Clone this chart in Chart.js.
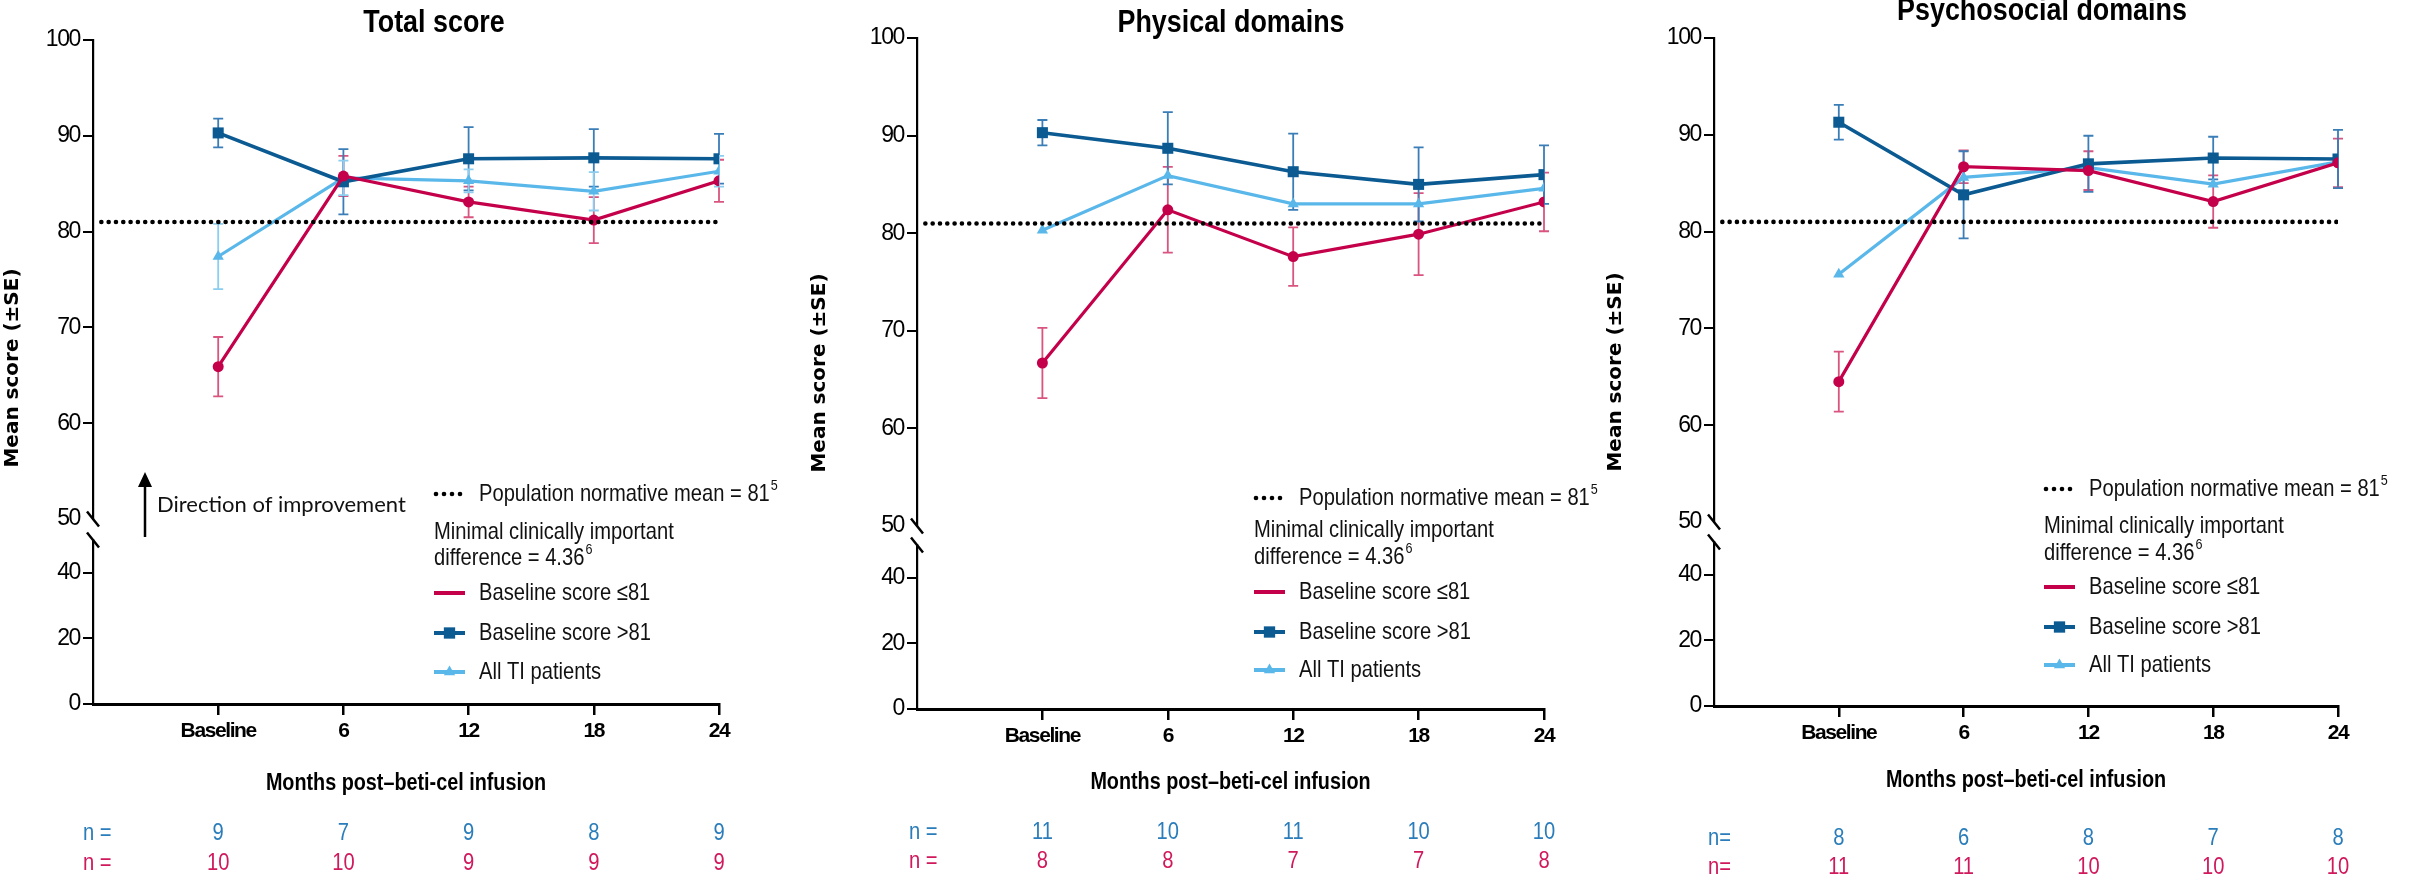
<!DOCTYPE html>
<html><head><meta charset="utf-8">
<script src="https://cdn.jsdelivr.net/npm/chart.js@4.4.1/dist/chart.umd.min.js"></script>
<style>
html,body{margin:0;padding:0;background:#fff;}
#wrap{position:relative;width:2417px;height:876px;overflow:hidden;background:#fff;}
canvas{position:absolute;top:0;}
</style></head><body>
<div id="wrap">
<canvas id="c1" width="800" height="876" style="left:0px;width:800px;height:876px"></canvas>
<canvas id="c2" width="800" height="876" style="left:800px;width:800px;height:876px"></canvas>
<canvas id="c3" width="817" height="876" style="left:1600px;width:817px;height:876px"></canvas>
</div>
<script>
// ---------- data ----------
const monthValues = [0, 6, 12, 18, 24];
const monthLabels = ['Baseline', '6', '12', '18', '24'];
const upperTicks = [50, 60, 70, 80, 90, 100];
const lowerTicks = [0, 20, 40];
const normativeMean = 81;
const refLineX = [-5.6, 24];
const seriesNames = ['Baseline score \u226481', 'Baseline score >81', 'All TI patients'];
const panelTitles = ['Total score', 'Physical domains', 'Psychosocial domains'];

// Total score
const totalLowMean  = [65.9, 85.8, 83.1, 81.2, 85.3];
const totalLowSE    = [3.1, 2.1, 1.6, 2.4, 2.2];
const totalHighMean = [90.3, 85.2, 87.6, 87.7, 87.6];
const totalHighSE   = [1.5, 3.4, 3.3, 3.0, 2.6];
const totalAllMean  = [77.4, 85.6, 85.3, 84.2, 86.3];
const totalAllSE    = [3.4, 1.8, 1.2, 2.0, 1.6];
const totalNHigh = [9, 7, 9, 8, 9];
const totalNLow  = [10, 10, 9, 9, 9];

// Physical domains
const physLowMean  = [66.7, 82.4, 77.6, 79.9, 83.2];
const physLowSE    = [3.6, 4.4, 3.0, 4.2, 3.0];
const physHighMean = [90.3, 88.7, 86.3, 85.0, 86.0];
const physHighSE   = [1.3, 3.7, 3.9, 3.8, 3.0];
const physAllMean  = [80.3, 85.9, 83.0, 83.0, 84.6];
const physAllSE    = null;
const physNHigh = [11, 10, 11, 10, 10];
const physNLow  = [8, 8, 7, 7, 8];

// Psychosocial domains
const psyLowMean  = [64.5, 86.7, 86.3, 83.1, 87.1];
const psyLowSE    = [3.1, 1.7, 2.0, 2.7, 2.5];
const psyHighMean = [91.3, 83.8, 87.0, 87.6, 87.5];
const psyHighSE   = [1.8, 4.5, 2.9, 2.2, 3.0];
const psyAllMean  = [75.6, 85.6, 86.6, 84.9, 87.2];
const psyAllSE    = null;
const psyNHigh = [8, 6, 8, 7, 8];
const psyNLow  = [11, 11, 10, 10, 10];

// ---------- style ----------
const SANS = "'Liberation Sans', Arial, sans-serif";
const SQUEEZE = 0.84;
const COL = {
  low: '#C4004B', lowErr: '#D9557F',
  high: '#0B5A92', highErr: '#3A7DB7',
  all: '#5AB7EA', allErr: '#8CCDF0',
  nHigh: '#2A7DBA', nLow: '#D0185C', text: '#111'
};

// narrow text: Liberation Sans horizontally condensed through fillText's maxWidth
function narrowText(ctx, str, x, y, font, align, squeeze) {
  ctx.font = font;
  ctx.textAlign = align || 'left';
  ctx.textBaseline = 'middle';
  const w = ctx.measureText(str).width * (squeeze || SQUEEZE);
  ctx.fillText(str, x, y, w);
  return w;
}
function drawSup(ctx, x, y, main, sup, size) {
  const w = narrowText(ctx, main, x, y, size + 'px ' + SANS, 'left');
  if (sup) narrowText(ctx, sup, x + w + 1, y - size * 0.32, Math.round(size * 0.62) + 'px ' + SANS, 'left');
}

function drawMarker(ctx, style, x, y, r, color) {
  ctx.fillStyle = color;
  ctx.beginPath();
  if (style === 'circle') {
    ctx.arc(x, y, r, 0, Math.PI * 2);
  } else if (style === 'rect') {
    const s = Math.SQRT1_2 * r;
    ctx.rect(x - s, y - s, 2 * s, 2 * s);
  } else {
    ctx.moveTo(x, y - r);
    ctx.lineTo(x + r * 0.866, y + r * 0.5);
    ctx.lineTo(x - r * 0.866, y + r * 0.5);
    ctx.closePath();
  }
  ctx.fill();
}

function makePanel(cfg) {
  const series = [
    {name: seriesNames[0], mean: cfg.lowMean, se: cfg.lowSE, color: COL.low, err: COL.lowErr, style: 'circle', r: 5.5, w: 3.2, order: 1},
    {name: seriesNames[1], mean: cfg.highMean, se: cfg.highSE, color: COL.high, err: COL.highErr, style: 'rect', r: 7.8, w: 3.6, order: 2},
    {name: seriesNames[2], mean: cfg.allMean, se: cfg.allSE, color: COL.all, err: COL.allErr, style: 'triangle', r: 6.5, w: 3.2, order: 3}
  ];
  const datasets = [{
    label: 'Population normative mean',
    data: refLineX.map(x => ({x: x, y: normativeMean})),
    borderColor: '#000', borderWidth: 4.6, borderDash: [0.01, 7.3], borderCapStyle: 'round',
    pointRadius: 0, order: 0, xAxisID: 'x', yAxisID: 'y', fill: false
  }];
  series.forEach(s => {
    datasets.push({
      label: s.name,
      data: monthValues.map((m, i) => ({x: m, y: s.mean[i]})),
      se: s.se, errColor: s.err,
      borderColor: s.color, backgroundColor: s.color, borderWidth: s.w,
      pointStyle: s.style, pointRadius: s.r, pointBackgroundColor: s.color, pointBorderColor: s.color,
      pointBorderWidth: 0, order: s.order, xAxisID: 'x', yAxisID: 'y', fill: false, tension: 0
    });
  });

  const yCommon = {
    type: 'linear', position: 'left', stack: 'v', offset: false,
    afterFit: (sc) => { sc.width = cfg.axisW; }
  };

  const panelPlugin = {
    id: 'panelExtras',
    beforeDraw(chart) {
      chart.ctx.letterSpacing = '-1.4px';
    },
    beforeDatasetsDraw(chart) {
      const ctx = chart.ctx, xs = chart.scales.x, ys = chart.scales.y;
      ctx.save();
      chart.data.datasets.forEach(d => {
        if (!d.se) return;
        ctx.strokeStyle = d.errColor;
        ctx.lineWidth = 1.8;
        d.data.forEach((p, i) => {
          const px = xs.getPixelForValue(p.x);
          const top = ys.getPixelForValue(p.y + d.se[i]);
          const bot = ys.getPixelForValue(p.y - d.se[i]);
          ctx.beginPath();
          ctx.moveTo(px, top); ctx.lineTo(px, bot);
          ctx.moveTo(px - 5, top); ctx.lineTo(px + 5, top);
          ctx.moveTo(px - 5, bot); ctx.lineTo(px + 5, bot);
          ctx.stroke();
        });
      });
      ctx.restore();
    },
    afterDraw(chart) {
      const ctx = chart.ctx, xs = chart.scales.x, ys = chart.scales.y, y2 = chart.scales.y2;
      const ax = chart.chartArea.left;
      ctx.save();
      ctx.letterSpacing = '0px';
      // axis break marks
      ctx.strokeStyle = '#000'; ctx.lineWidth = 2.5;
      [ys.getPixelForValue(50), y2.top].forEach(yy => {
        ctx.beginPath();
        ctx.moveTo(ax - 6, yy - 7.5); ctx.lineTo(ax + 6, yy + 7.5);
        ctx.stroke();
      });
      ctx.fillStyle = '#000';
      // title
      narrowText(ctx, cfg.title, cfg.titleX, cfg.titleY, 'bold 32px ' + SANS, 'center');
      // y title
      ctx.save();
      ctx.translate(cfg.yTitleX, cfg.yTitleY);
      ctx.rotate(-Math.PI / 2);
      ctx.font = "bold 20px 'DejaVu Sans', Verdana, sans-serif";
      ctx.textAlign = 'center'; ctx.textBaseline = 'middle';
      ctx.fillText('Mean score (\u00b1SE)', 0, 0);
      ctx.restore();
      // x title
      narrowText(ctx, 'Months post\u2013beti-cel infusion', (chart.chartArea.left + chart.chartArea.right) / 2,
                 cfg.xTitleY, 'bold 23px ' + SANS, 'center', 0.86);
      // n rows
      [[cfg.nHigh, COL.nHigh, cfg.nY[0]], [cfg.nLow, COL.nLow, cfg.nY[1]]].forEach(([arr, col, yy]) => {
        ctx.fillStyle = col;
        narrowText(ctx, cfg.nPrefix, cfg.nLeft, yy, '24px ' + SANS, 'left');
        arr.forEach((v, i) => narrowText(ctx, String(v), xs.getPixelForValue(monthValues[i]), yy, '24px ' + SANS, 'center'));
      });
      // legend
      const lx = cfg.legX, tx = cfg.legX + 45, R = cfg.legRows;
      ctx.fillStyle = '#000';
      for (let k = 0; k < 4; k++) {
        ctx.beginPath(); ctx.arc(lx + 2 + k * 8, R[0], 2.3, 0, Math.PI * 2); ctx.fill();
      }
      ctx.fillStyle = COL.text;
      drawSup(ctx, tx, R[0], 'Population normative mean = 81', '5', 24);
      drawSup(ctx, lx, R[1], 'Minimal clinically important', '', 24);
      drawSup(ctx, lx, R[2], 'difference = 4.36', '6', 24);
      series.forEach((s, i) => {
        const yy = R[3 + i];
        ctx.strokeStyle = s.color; ctx.lineWidth = 4;
        ctx.beginPath(); ctx.moveTo(lx, yy); ctx.lineTo(lx + 31, yy); ctx.stroke();
        if (i > 0) drawMarker(ctx, s.style, lx + 15.5, yy, s.style === 'rect' ? 8 : 6.5, s.color);
        ctx.fillStyle = COL.text;
        drawSup(ctx, tx, yy, s.name, '', 24);
      });
      // direction of improvement
      if (cfg.arrow) {
        const axx = cfg.arrow.x;
        ctx.strokeStyle = '#000'; ctx.fillStyle = '#000'; ctx.lineWidth = 2.5;
        ctx.beginPath(); ctx.moveTo(axx, cfg.arrow.y1); ctx.lineTo(axx, cfg.arrow.y2 + 12); ctx.stroke();
        ctx.beginPath();
        ctx.moveTo(axx, cfg.arrow.y2); ctx.lineTo(axx + 7, cfg.arrow.y2 + 15); ctx.lineTo(axx - 7, cfg.arrow.y2 + 15);
        ctx.closePath(); ctx.fill();
        ctx.font = "22px Lato, 'Open Sans', sans-serif";
        ctx.textAlign = 'left'; ctx.textBaseline = 'middle';
        ctx.fillStyle = COL.text;
        ctx.fillText('Direction of improvement', axx + 12, cfg.arrow.ty);
      }
      ctx.restore();
    }
  };

  return new Chart(document.getElementById(cfg.id), {
    type: 'line',
    data: {datasets: datasets},
    options: {
      responsive: false, animation: false, events: [],
      layout: {padding: {left: 0, top: cfg.padTop, right: cfg.padRight, bottom: cfg.padBottom}},
      plugins: {legend: {display: false}, tooltip: {enabled: false}, title: {display: false}},
      scales: {
        x: {
          type: 'linear', position: 'bottom', min: -6, max: 24,
          afterBuildTicks: (sc) => { sc.ticks = monthValues.map(v => ({value: v})); },
          afterFit: (sc) => { sc.height = 60; },
          ticks: {
            autoSkip: false, maxRotation: 0, padding: 4, color: '#000',
            font: {family: SANS, size: 21, weight: 'bold'},
            callback: (v) => monthLabels[monthValues.indexOf(v)]
          },
          grid: {drawOnChartArea: false, drawTicks: true, tickLength: 11, lineWidth: 2.5, color: '#000'},
          border: {display: true, width: 3, color: '#000'}
        },
        y: Object.assign({}, yCommon, {
          min: 50, max: 100, weight: 3, stackWeight: cfg.weights[0],
          afterBuildTicks: (sc) => { sc.ticks = upperTicks.map(v => ({value: v})); },
          ticks: {padding: 3, color: '#000', font: {family: SANS, size: 23}},
          grid: {drawOnChartArea: false, tickLength: 10, lineWidth: 2,
                 color: (c) => (c.tick && c.tick.value === 50) ? 'rgba(0,0,0,0)' : '#000'},
          border: {display: true, width: 2.2, color: '#000'}
        }),
        yGap: Object.assign({}, yCommon, {
          min: 0, max: 1, weight: 2, stackWeight: cfg.weights[1],
          ticks: {display: false}, grid: {display: false}, border: {display: false}
        }),
        y2: Object.assign({}, yCommon, {
          min: 0, max: 50, weight: 1, stackWeight: cfg.weights[2],
          afterBuildTicks: (sc) => { sc.ticks = lowerTicks.map(v => ({value: v})); },
          ticks: {padding: 3, color: '#000', font: {family: SANS, size: 23}},
          grid: {drawOnChartArea: false, tickLength: 10, lineWidth: 2, color: '#000'},
          border: {display: true, width: 2.2, color: '#000'}
        })
      }
    },
    plugins: [panelPlugin]
  });
}

makePanel({
  id: 'c1', title: panelTitles[0], titleX: 434, titleY: 23,
  axisW: 93, padTop: 40, padRight: 81, padBottom: 112, weights: [479, 21, 164],
  yTitleX: 13, yTitleY: 368, xTitleY: 784,
  lowMean: totalLowMean, lowSE: totalLowSE, highMean: totalHighMean, highSE: totalHighSE,
  allMean: totalAllMean, allSE: totalAllSE,
  nHigh: totalNHigh, nLow: totalNLow, nPrefix: 'n =', nLeft: 83, nY: [833, 863],
  legX: 434, legRows: [494, 532, 558, 593, 633, 672],
  arrow: {x: 145, y1: 537, y2: 472, ty: 505}
});
makePanel({
  id: 'c2', title: panelTitles[1], titleX: 431, titleY: 23,
  axisW: 117, padTop: 38, padRight: 56, padBottom: 107, weights: [488, 19, 164],
  yTitleX: 20, yTitleY: 373, xTitleY: 783,
  lowMean: physLowMean, lowSE: physLowSE, highMean: physHighMean, highSE: physHighSE,
  allMean: physAllMean, allSE: physAllSE,
  nHigh: physNHigh, nLow: physNLow, nPrefix: 'n =', nLeft: 109, nY: [832, 861],
  legX: 454, legRows: [498, 530, 557, 592, 632, 670],
  arrow: null
});
makePanel({
  id: 'c3', title: panelTitles[2], titleX: 442, titleY: 11,
  axisW: 114, padTop: 38, padRight: 79, padBottom: 110, weights: [484, 20, 164],
  yTitleX: 16, yTitleY: 372, xTitleY: 781,
  lowMean: psyLowMean, lowSE: psyLowSE, highMean: psyHighMean, highSE: psyHighSE,
  allMean: psyAllMean, allSE: psyAllSE,
  nHigh: psyNHigh, nLow: psyNLow, nPrefix: 'n=', nLeft: 108, nY: [838, 867],
  legX: 444, legRows: [489, 526, 553, 587, 627, 665],
  arrow: null
});
</script>
</body></html>
